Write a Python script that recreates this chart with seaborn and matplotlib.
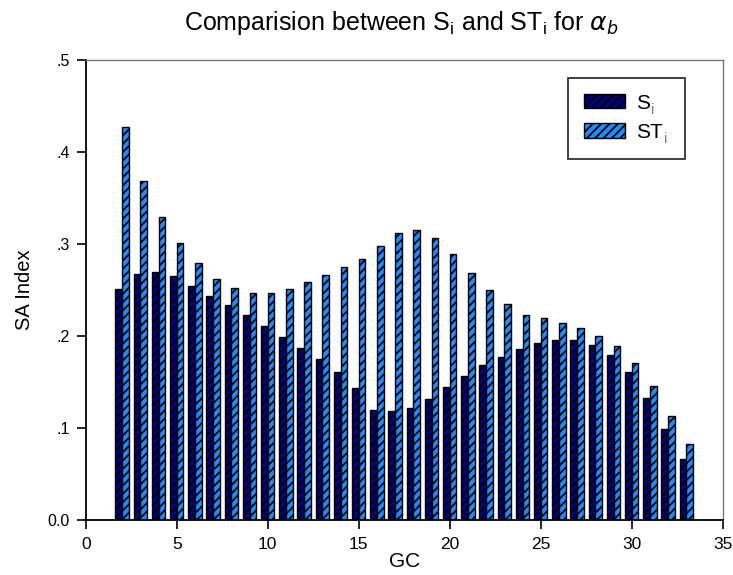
import matplotlib
matplotlib.use("Agg")
import matplotlib.pyplot as plt
import seaborn as sns
import pandas as pd
import numpy as np
from matplotlib.patches import Patch
from matplotlib.offsetbox import DrawingArea
from matplotlib.text import Text

gc = list(range(2, 34))
si = [0.251, 0.267, 0.270, 0.265, 0.254, 0.243, 0.234, 0.223, 0.211, 0.199,
      0.187, 0.175, 0.161, 0.143, 0.120, 0.118, 0.122, 0.132, 0.145, 0.157,
      0.168, 0.177, 0.186, 0.192, 0.196, 0.196, 0.190, 0.179, 0.161, 0.133,
      0.099, 0.066]
sti = [0.427, 0.368, 0.329, 0.301, 0.279, 0.262, 0.252, 0.247, 0.247, 0.251,
       0.259, 0.266, 0.275, 0.284, 0.298, 0.312, 0.315, 0.307, 0.289, 0.268,
       0.250, 0.235, 0.223, 0.219, 0.214, 0.209, 0.200, 0.189, 0.171, 0.146,
       0.113, 0.083]
series_names = ["Si", "STi"]
legend_labels = ["S", "ST"]
legend_sub = "i"
colors = ["#00007A", "#1E8CFF"]
yticks = [0.0, 0.1, 0.2, 0.3, 0.4, 0.5]
ytick_labels = ["0.0", ".1", ".2", ".3", ".4", ".5"]
xticks = [0, 5, 10, 15, 20, 25, 30, 35]

df = pd.DataFrame({
    "GC": gc * 2,
    "value": si + sti,
    "series": [series_names[0]] * len(gc) + [series_names[1]] * len(gc),
})

sns.set_style("white")
plt.rcParams['font.family'] = ['Liberation Sans', 'DejaVu Sans']
plt.rcParams['hatch.linewidth'] = 1.3
plt.rcParams['text.color'] = 'black'
plt.rcParams['axes.labelcolor'] = 'black'
plt.rcParams['xtick.color'] = 'black'
plt.rcParams['ytick.color'] = 'black'

fig = plt.figure(figsize=(7.33, 5.75), dpi=100)
ax = fig.add_axes([0.117, 0.0957, 0.869, 0.800])

sns.barplot(data=df, x="GC", y="value", hue="series", native_scale=True,
            palette=colors, saturation=1, edgecolor="black", linewidth=1.0,
            width=0.74, ax=ax, legend=False)
for p in ax.patches:
    p.set_hatch("////")

ax.set_xlim(0, 35)
ax.set_ylim(0, 0.5)
ax.set_xticks(xticks)
ax.set_xticklabels([str(t) for t in xticks], fontsize=12.5)
ax.set_yticks(yticks)
ax.set_yticklabels(ytick_labels, fontsize=11.5)
ax.tick_params(axis="both", direction="out", length=6.5, width=1.2,
               bottom=True, left=True, top=False, right=False)
ax.tick_params(axis="x", pad=6)
ax.tick_params(axis="y", pad=5)
for side in ["left", "bottom"]:
    ax.spines[side].set_color("black")
    ax.spines[side].set_linewidth(1.3)
for side in ["top", "right"]:
    ax.spines[side].set_color("#777777")
    ax.spines[side].set_linewidth(1.0)

ax.set_xlabel("GC", fontsize=15, labelpad=0)
ax.set_ylabel("SA Index", fontsize=14.5, labelpad=10)
fig.text(0.547, 0.948,
         r"Comparision between S$_\mathregular{i}$ and ST$_\mathregular{i}$ for $\alpha_b$",
         fontsize=18, ha="center", va="baseline")

leg_fs = 15
handles = [Patch(facecolor=colors[0], edgecolor="black", hatch="////"),
           Patch(facecolor=colors[1], edgecolor="black", hatch="////")]
leg = ax.legend(handles, legend_labels,
                loc="upper right", bbox_to_anchor=(0.940, 0.961), fontsize=leg_fs,
                frameon=True, fancybox=False, edgecolor="black",
                handlelength=2.0, handleheight=0.67, handletextpad=0.5,
                borderpad=0.75, labelspacing=0.42, borderaxespad=0)
leg.get_frame().set_linewidth(1.3)

# pink subscript "i" appended to each legend entry
sep = 0.5 * leg_fs
for col in leg._legend_handle_box.get_children():
    for row in col.get_children():
        da = DrawingArea(-sep + 4.5, 10, 0, 4, clip=False)
        da.set_figure(fig)
        txt = Text(-sep + 1.0, -4.0, legend_sub, fontsize=10.5,
                   color="#B05FB0", ha="left", va="baseline")
        txt.set_figure(fig)
        da.add_artist(txt)
        row.get_children().append(da)

fig.savefig("out.png", dpi=100)
